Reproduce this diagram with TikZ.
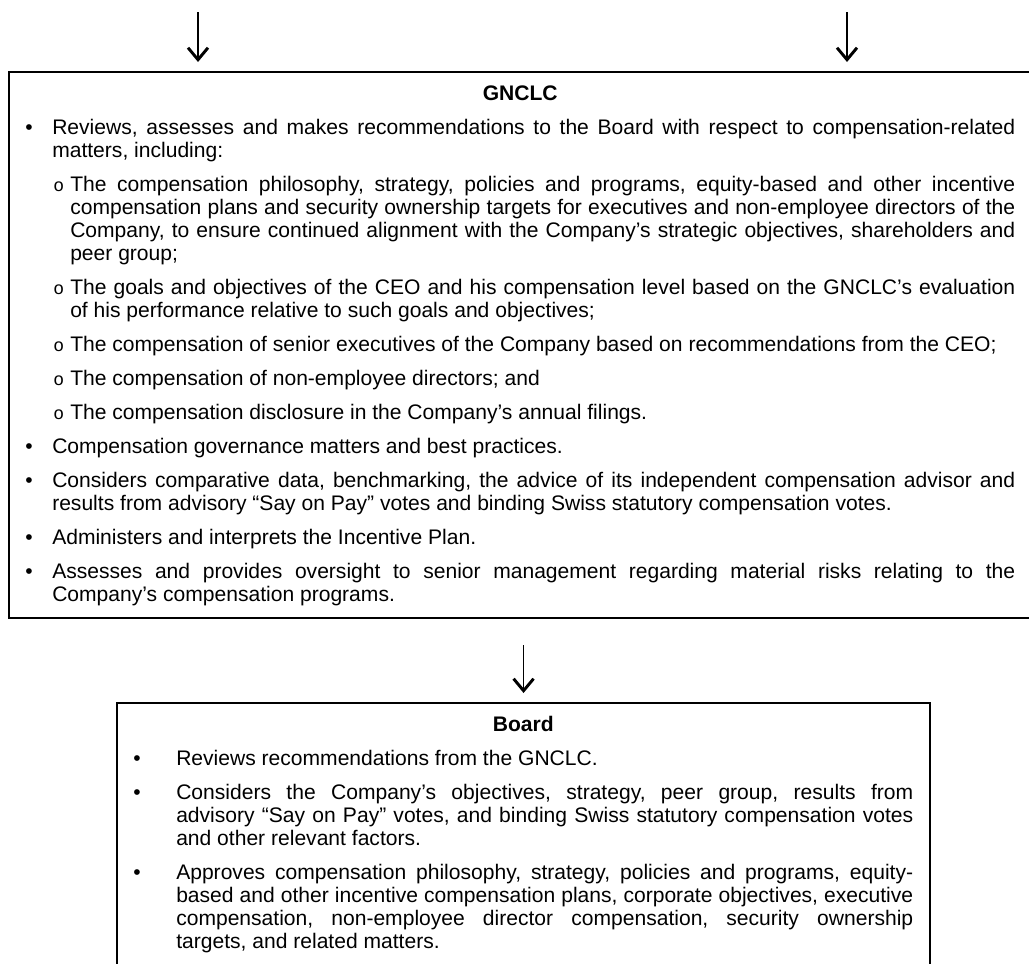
\documentclass[tikz,border=0pt]{standalone}
\usepackage{fontspec}
\setmainfont{Liberation Sans}
\newfontfamily\subbulletfont{Liberation Mono}
\usetikzlibrary{positioning,arrows.meta}

% bullet paragraphs (indent in pt, 1px = 0.75pt)
\newcommand{\mainpoint}[1]{\par\leftskip=20.25pt\rightskip=0pt\noindent\llap{\makebox[20.25pt][l]{•}}#1\par}
\newcommand{\subpoint}[1]{\par\leftskip=33.75pt\rightskip=0pt\noindent\llap{\makebox[12.75pt][l]{\subbulletfont\fontsize{13.5pt}{13.5pt}\selectfont o}}#1\par}
\newcommand{\boardpoint}[1]{\par\leftskip=32.25pt\rightskip=0pt\noindent\llap{\makebox[32.25pt][l]{•}}#1\par}
\newcommand{\boxsetup}{\setlength{\baselineskip}{17.25pt}\setlength{\parskip}{8.25pt}\frenchspacing\spaceskip=0.278em plus 0.6em minus 0.05em\relax}

\begin{document}
\begin{tikzpicture}[x=0.75pt, y=-0.75pt]
	\tikzstyle{frame} = [draw, line width=1.6pt, anchor=north west, inner sep=0pt]
	\tikzstyle{textblock} = [anchor=north west, inner sep=0pt, align=justify, font=\fontsize{15.8pt}{17.25pt}\selectfont]
	\tikzstyle{flow} = [line width=1.3pt, shorten >=6.75pt, -{Straight Barb[length=9pt, width=15pt, line width=2.2pt]}]

	\fill[white] (0,0) rectangle (1029,964);
	\useasboundingbox (0,0) rectangle (1029,964);

	\node[frame, minimum width=771pt, minimum height=409.5pt] (gnclcbox) at (8,71) {};
	\node[frame, minimum width=609.75pt, minimum height=216pt] (boardbox) at (116,702) {};

	\node[textblock, text width=742.5pt] (gnclc) at (25,80) {%
		\boxsetup
		{\centering\bfseries\rule{0pt}{15pt}GNCLC\par}
		\mainpoint{Reviews, assesses and makes recommendations to the Board with respect to compensation-related\linebreak matters, including:}
		\subpoint{The compensation philosophy, strategy, policies and programs, equity-based and other incentive\linebreak compensation plans and security ownership targets for executives and non-employee directors of the\linebreak Company, to ensure continued alignment with the Company’s strategic objectives, shareholders and\linebreak peer group;}
		\subpoint{The goals and objectives of the CEO and his compensation level based on the GNCLC’s evaluation\linebreak of his performance relative to such goals and objectives;}
		\subpoint{The compensation of senior executives of the Company based on recommendations from the CEO;}
		\subpoint{The compensation of non-employee directors; and}
		\subpoint{The compensation disclosure in the Company’s annual filings.}
		\mainpoint{Compensation governance matters and best practices.}
		\mainpoint{Considers comparative data, benchmarking, the advice of its independent compensation advisor and\linebreak results from advisory “Say on Pay” votes and binding Swiss statutory compensation votes.}
		\mainpoint{Administers and interprets the Incentive Plan.}
		\mainpoint{Assesses and provides oversight to senior management regarding material risks relating to the\linebreak Company’s compensation programs.}
	};

	\node[textblock, text width=585pt] (board) at (133,711) {%
		\boxsetup
		{\centering\bfseries\rule{0pt}{15pt}Board\par}
		\boardpoint{Reviews recommendations from the GNCLC.}
		\boardpoint{Considers the Company’s objectives, strategy, peer group, results from\linebreak advisory “Say on Pay” votes, and binding Swiss statutory compensation votes\linebreak and other relevant factors.}
		\boardpoint{Approves compensation philosophy, strategy, policies and programs, equity-\linebreak based and other incentive compensation plans, corporate objectives, executive\linebreak compensation, non-employee director compensation, security ownership\linebreak targets, and related matters.}
	};

	\coordinate (leftin) at (198,12);
	\coordinate (rightin) at (847,12);

	\draw[flow] (leftin) -- (leftin |- gnclcbox.north);
	\draw[flow] (rightin) -- (rightin |- gnclcbox.north);
	\draw[flow, shorten <=19.5pt] (gnclcbox.south -| boardbox.north) -- (boardbox.north);
\end{tikzpicture}
\end{document}
